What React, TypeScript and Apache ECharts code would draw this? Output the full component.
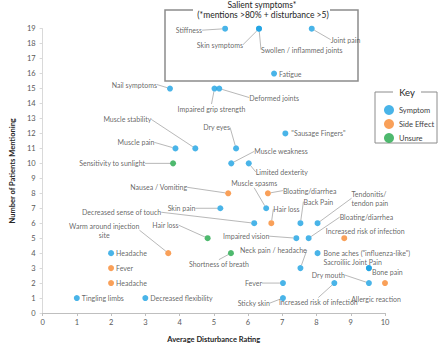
import React, { useEffect, useRef } from "react";
import * as echarts from "echarts";

// ---------- data ----------
const symptomNames = [
  "Stiffness", "Skin symptoms", "Swollen / inflammed joints", "Joint pain", "Fatigue",
  "Nail symptoms", "Impaired grip strength", "Deformed joints", "\"Sausage Fingers\"",
  "Muscle stability", "Muscle pain", "Dry eyes", "Muscle weakness", "Limited dexterity",
  "Muscle spasms", "Skin pain", "Decreased sense of touch", "Back Pain", "Tendonitis/\ntendon pain",
  "Impaired vision", "Bloating/diarrhea", "Bone aches (\"influenza-like\")", "Headache",
  "Neck pain / headache", "Sacroiliic Joint Pain", "Bone pain", "Fever", "Dry mouth",
  "Increased risk of infection", "Tingling limbs", "Decreased flexibility", "Sticky skin",
];
const symptomX = [5.33, 6.32, 6.32, 7.86, 6.76, 3.72, 5.02, 5.16, 7.09, 4.46, 3.88, 5.65, 5.51, 6.02,
  6.53, 5.19, 6.18, 7.53, 8.03, 7.41, 7.77, 8.03, 2, 7.53, 9.53, 9.53, 7.02, 9.53, 8.52, 1, 3, 7.02];
const symptomY = [19, 19, 19, 19, 16, 15, 15, 15, 12, 11, 11, 11, 10, 10,
  7, 7, 6, 6, 6, 5, 5, 4, 4, 3, 3, 3, 2, 2, 2, 1, 1, 1];

const sideNames = [
  "Nausea / Vomiting", "Bloating/diarrhea", "Hair loss", "Increased risk of infection",
  "Warm around injection\nsite", "Fever", "Headache", "Allergic reaction",
];
const sideX = [5.42, 6.58, 6.68, 8.81, 3.67, 2, 2, 10];
const sideY = [8, 8, 6, 5, 4, 3, 2, 2];

const unsureNames = ["Sensitivity to sunlight", "Hair loss", "Shortness of breath"];
const unsureX = [3.81, 4.82, 5.5];
const unsureY = [10, 5, 4];

const categories = ["Symptom", "Side Effect", "Unsure"];
const xTicks = { min: 0, max: 10, interval: 1 };
const yTicks = { min: 0, max: 19, interval: 1 };

// ---------- label placement (offset from the point, px) ----------
type Place = [number, number, string, number];
const symptomPlace: Place[] = [
  [-23, 1.5, "right", 1], [-16, 16, "right", 1], [2, 21, "left", 1], [19, 11, "left", 1],
  [5, 0, "left", 0], [-13, -4, "right", 1], [-3, 20, "center", 1], [30, 9, "left", 1],
  [6, 0, "left", 0], [-44, -29, "right", 1], [-21, -6, "right", 1], [-6, -21, "right", 1],
  [23, -12, "left", 1], [7, 8.5, "left", 1], [-12, -25, "center", 1], [-25, 0, "right", 1],
  [-93, -11, "right", 1], [3, -21.6, "left", 1], [34, -25, "left", 1], [-27, -2, "right", 1],
  [31, -21, "left", 1], [6, 0, "left", 0], [5, 0, "left", 0], [-27, -18, "center", 1],
  [13, -6, "right", 0], [3, 4, "left", 0], [-21, 0, "right", 1], [-24, -8, "right", 1],
  [-16, 19, "center", 1], [5, 0, "left", 0], [5, 0, "left", 0], [-13, 5, "right", 1],
];
const sidePlace: Place[] = [
  [-41, -6, "right", 1], [15, -2.7, "left", 1], [2, -14, "left", 1], [21, -7.3, "center", 0],
  [-64, -23, "center", 1], [5, 0, "left", 0], [5, 0, "left", 0], [-9, 16, "center", 0],
];
const unsurePlace: Place[] = [
  [-28, 0, "right", 1], [-29, -13, "right", 1], [-12, 11, "center", 1],
];

const COLORS = ["#1ba1e2", "#f7882f", "#22a84a"];
const FONT = "Lato";
const TEXT = "#404040";

function makeSeries(name: string, names: string[], xs: number[], ys: number[], place: Place[], color: string) {
  return {
    name,
    type: "scatter",
    symbolSize: 6,
    itemStyle: { color },
    data: names.map((n, i) => ({
      name: n,
      value: [xs[i], ys[i]],
      labelLine: { show: place[i][3] === 1 },
    })),
    label: {
      show: true,
      formatter: "{b}",
      fontFamily: FONT,
      fontSize: 7,
      lineHeight: 9,
      color: TEXT,
      position: "inside",
    },
    labelLine: {
      show: true,
      lineStyle: { color: "#a6a6a6", width: 0.8 },
    },
    labelLayout: (params: any) => {
      const p = place[params.dataIndex];
      const cx = params.rect.x + params.rect.width / 2;
      const cy = params.rect.y + params.rect.height / 2;
      return { x: cx + p[0], y: cy + p[1], align: p[2], verticalAlign: "middle" };
    },
    emphasis: { disabled: true },
  };
}

export default function App() {
  const ref = useRef<HTMLDivElement>(null);
  useEffect(() => {
    if (!ref.current) return;
    const chart = echarts.init(ref.current, null, { renderer: "svg" });
    const boxStroke = "#8c8c8c";
    chart.setOption({
      animation: false,
      backgroundColor: "#ffffff",
      grid: { left: 27, right: 55, top: 28.7, bottom: 28 },
      xAxis: {
        type: "value",
        ...xTicks,
        name: "Average Disturbance Rating",
        nameLocation: "middle",
        nameGap: 22,
        nameTextStyle: { fontFamily: FONT, fontSize: 7.5, fontWeight: "bold", color: "#262626" },
        axisLine: { show: true, lineStyle: { color: "#bfbfbf" } },
        axisTick: { show: true, length: 3, lineStyle: { color: "#bfbfbf" } },
        axisLabel: { fontFamily: FONT, fontSize: 7.5, color: "#595959", margin: 5 },
        splitLine: { show: false },
      },
      yAxis: {
        type: "value",
        ...yTicks,
        name: "Number of Patients Mentioning",
        nameLocation: "middle",
        nameGap: 20,
        nameTextStyle: { fontFamily: FONT, fontSize: 7.5, fontWeight: "bold", color: "#262626" },
        axisLine: { show: true, lineStyle: { color: "#d9d9d9" } },
        axisTick: { show: true, length: 3, lineStyle: { color: "#d9d9d9" } },
        axisLabel: { fontFamily: FONT, fontSize: 7.5, color: "#595959", margin: 7 },
        splitLine: { show: false },
      },
      legend: {
        data: categories,
        orient: "vertical",
        left: 379,
        top: 100,
        icon: "circle",
        itemWidth: 10,
        itemHeight: 10,
        itemGap: 4,
        textStyle: { fontFamily: FONT, fontSize: 7.5, color: TEXT },
      },
      series: [
        makeSeries(categories[0], symptomNames, symptomX, symptomY, symptomPlace, COLORS[0]),
        makeSeries(categories[1], sideNames, sideX, sideY, sidePlace, COLORS[1]),
        makeSeries(categories[2], unsureNames, unsureX, unsureY, unsurePlace, COLORS[2]),
      ],
      graphic: [
        {
          type: "polyline",
          shape: { points: [[193, 10], [165, 10], [165, 81], [358, 81], [358, 10], [330, 10]] },
          style: { stroke: boxStroke, lineWidth: 1.5, fill: null },
          silent: true,
        },
        {
          type: "text",
          x: 262, y: 5,
          style: { text: "Salient symptoms*", fontFamily: FONT, fontSize: 8.5, fill: "#262626", align: "center", verticalAlign: "middle" },
        },
        {
          type: "text",
          x: 263, y: 15,
          style: { text: "(*mentions >80% + disturbance >5)", fontFamily: FONT, fontSize: 8.5, fill: "#262626", align: "center", verticalAlign: "middle" },
        },
        {
          type: "polyline",
          shape: { points: [[393, 92], [375, 92], [375, 143], [437, 143], [437, 92], [421, 92]] },
          style: { stroke: boxStroke, lineWidth: 1, fill: null },
          silent: true,
        },
        {
          type: "text",
          x: 407, y: 92,
          style: { text: "Key", fontFamily: FONT, fontSize: 9.5, fill: "#262626", align: "center", verticalAlign: "middle" },
        },
      ],
    });
    return () => chart.dispose();
  }, []);
  return <div ref={ref} style={{ width: 440, height: 348, position: "absolute", left: 0, top: 0 }} />;
}
